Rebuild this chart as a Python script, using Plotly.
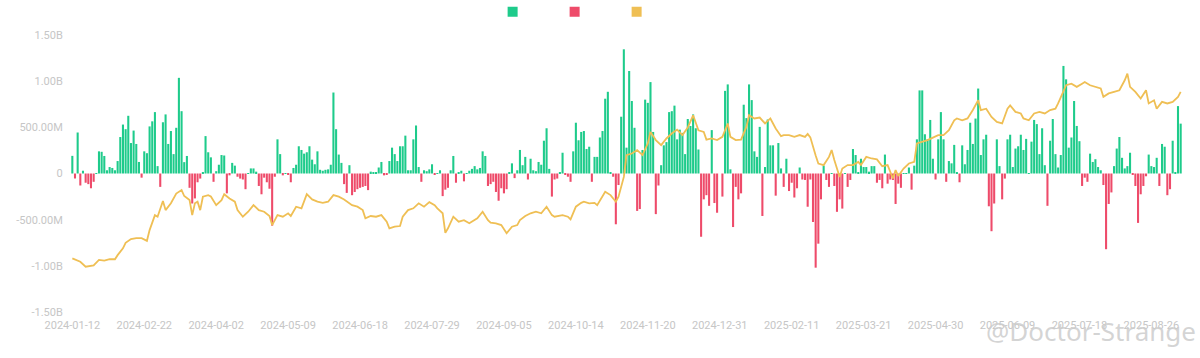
import pandas as pd
import plotly.graph_objects as go

# ---------------- data ----------------
market_holidays = ["2024-01-15", "2024-02-19", "2024-03-29", "2024-05-27", "2024-06-19",
                   "2024-07-04", "2024-09-02", "2024-11-28", "2024-12-25", "2025-01-01",
                   "2025-01-09", "2025-01-20", "2025-02-17", "2025-04-18", "2025-05-26",
                   "2025-06-19", "2025-07-04", "2025-09-01"]
first_day, last_day = "2024-01-12", "2025-09-11"

# daily net flow, millions USD (one per trading day)
net_flow_m = [
    191, -54, 444, -130, 30, -100, -115, -160, -90, 5,
    240, 235, 190, 35, 70, 60, 35, 135, 395, 530,
    480, 625, 330, 465, 320, 125, -45, 240, 220, 510,
    565, 665, 80, -145, 555, 640, 320, 460, 210, 495,
    1036, 675, 123, 190, -155, -325, -270, -95, -55, 7,
    405, 230, 175, -90, 25, 95, 200, 195, -215, -20,
    115, 85, -35, -55, -65, -170, 5, 55, 55, 20,
    -135, -225, -45, -95, -165, -565, -35, 370, 210, -20,
    3, -10, -95, 60, 95, 295, 255, 215, 230, 295,
    150, 100, 240, 40, 30, 40, 45, 95, 877, 480,
    205, 115, -115, -210, 90, -235, -200, -170, -155, -145,
    -135, -180, 20, 10, 7, 65, 125, -20, -15, 135,
    280, 210, 135, 295, 295, 410, 35, 35, 370, 520,
    70, -90, 35, 25, 45, 100, -15, 5, 35,
    -245, -175, -155, 35, 190, -100, 8, 30, -85, 5,
    30, 50, 80, 45, 60, 240, 190, -135, -115, -90,
    -200, -295, -160, -215, -170, 8, 110, -50, 35, 255,
    90, 180, -65, 160, 35, 25, 125, 95, 355, 490,
    50, -250, -65, -55, 8, 225, -15, -35, -90, 240,
    550, 360, 450, 460, 265, 290, -90, 180, 180, 390,
    460, 810, 885, 8, -35, -550, -125, 615, 1345, 280,
    1110, 785, 495, -405, -385, 255, 800, 765, 990, 450,
    -440, -130, 90, 305, 340, 665, 675, 735, 370, 475,
    440, 210, 590, 515, 640, 490, 260, -685, -280, -235,
    -350, 470, -320, -425, 0, -250, 895, 965, 45, -580,
    -145, -280, -215, 745, 600, 965, 795, 240, 180, 505,
    -460, 70, 585, 305, 305, -240, 330, 55, -145, 160,
    -190, -100, -260, -160, 65, -65, -70, -360,
    -65, -525, -1020, -760, -280, 85, -70, -145, 5, -135,
    -415, -280, -380, 5, -145, -70, 265, 200, 15, 160,
    70, 70, 20, 80, 80, -100, -70, -160, 205, -110,
    -65, -70, -330, -110, -155, 5, 5, 65, -175, 85,
    370, 900, 900, 425, 370, 580, 160, -65, 370, 665,
    370, -90, 135, 110, 310, 15, -95, 305, 100, 255,
    550, 320, 595, 920, 200, 370, 420, -355, -625, -325,
    370, 80, -280, -55, 370, 420, 70, 270, 295, 420,
    255, 375, 5, 345, 580, 535, 210, 490, 90, -350,
    355, 590, 210, 65, 200, 1165, 1020, 280, 390, 785,
    515, 350, -135, -45, -90, 215, 125, 155, 70, 35,
    -125, -820, -330, -205, 80, 270, 395, 170, 55, 80,
    225, -15, -135, -535, -225, -135, -30, 205, 80, 70,
    170, -135, 320, 290, -235, -170, 355, 10, 730, 540,
]

# BTC price (thousand USD) read at these trading-day positions
price_day_index = [
    0, 2, 3, 5, 7, 8, 10, 12, 14, 16, 17, 19, 20, 22, 24, 26, 28, 29, 31, 32,
    34, 35, 37, 39, 41, 42, 44, 45, 46, 47, 48, 49, 51, 52, 54, 56, 57, 59, 61, 62,
    64, 66, 68, 70, 72, 74, 75, 77, 79, 81, 82, 84, 86, 88, 90, 92, 94, 96, 98, 100,
    102, 104, 105, 107, 109, 110, 112, 114, 116, 118, 119, 121, 123, 124, 126, 128, 130, 132, 134, 136,
    137, 139, 140, 141, 143, 145, 147, 149, 150, 152, 154, 156, 157, 159, 161, 163, 165, 167, 168, 170,
    172, 174, 176, 178, 180, 181, 184, 186, 187, 189, 191, 192, 194, 196, 197, 199, 200, 202, 204, 205,
    207, 208, 210, 212, 214, 216, 217, 219, 221, 223, 225, 227, 229, 231, 233, 235, 237, 238, 240, 242,
    244, 246, 247, 249, 251, 253, 254, 256, 258, 260, 262, 264, 266, 267, 269, 271, 273, 275, 276, 277,
    278, 279, 280, 282, 284, 285, 286, 288, 289, 291, 293, 295, 296, 298, 300, 302, 304, 306, 308, 309,
    310, 312, 314, 316, 317, 319, 321, 323, 325, 327, 329, 331, 332, 334, 336, 338, 340, 341, 343, 345,
    347, 349, 351, 352, 354, 356, 357, 359, 361, 363, 365, 367, 369, 370, 372, 373, 375, 377, 379, 380,
    382, 384, 386, 387, 389, 391, 393, 395, 396, 397, 399, 401, 403, 404, 406, 407, 409, 411, 413, 415,
    416,
]
btc_price_k = [
    42.8, 41.7, 41.3, 39.1, 39.4, 39.7, 42.1, 41.8, 42.4, 42.4, 44.2, 47.2, 49.6, 51.3, 51.7, 51.7, 50.5, 55.2, 61.8, 61.1,
    68.0, 64.0, 67.0, 71.3, 72.8, 70.2, 68.4, 61.8, 67.0, 67.7, 64.0, 69.9, 70.6, 70.0, 66.2, 68.4, 71.0, 69.1, 67.7, 64.0,
    61.1, 63.3, 66.2, 64.0, 63.3, 61.4, 57.4, 61.8, 61.1, 62.6, 61.4, 65.5, 64.8, 71.0, 68.7, 67.7, 67.2, 67.7, 70.6, 69.9,
    68.7, 67.0, 66.2, 65.5, 64.0, 60.4, 61.4, 61.1, 61.8, 58.9, 56.0, 56.7, 57.0, 61.1, 64.0, 64.8, 67.0, 65.5, 67.5, 66.2,
    64.8, 62.6, 54.0, 56.0, 61.1, 58.9, 59.6, 58.2, 58.9, 60.4, 63.3, 59.6, 58.5, 58.2, 57.4, 53.8, 56.7, 57.4, 59.6, 61.4,
    62.6, 63.3, 62.6, 65.5, 61.8, 61.1, 61.8, 61.1, 59.9, 65.5, 67.2, 67.7, 67.0, 67.2, 66.2, 69.9, 72.1, 70.6, 67.7, 69.9,
    78.6, 88.2, 88.9, 90.4, 88.2, 93.3, 98.4, 94.8, 92.6, 95.5, 97.7, 99.4, 97.0, 100.3, 105.7, 99.1, 98.4, 95.0, 95.5, 94.8,
    96.2, 102.1, 96.2, 94.8, 95.0, 100.6, 105.7, 104.3, 104.7, 102.1, 104.3, 99.9, 96.5, 97.0, 97.0, 96.2, 97.0, 96.2, 97.5, 96.0,
    91.5, 88.0, 84.5, 83.8, 87.4, 90.4, 86.0, 78.6, 82.3, 83.8, 83.8, 85.2, 83.8, 87.4, 86.7, 86.3, 83.3, 83.8, 77.9, 81.6,
    79.0, 82.3, 84.5, 85.2, 93.3, 94.0, 94.8, 95.9, 97.0, 97.0, 99.1, 103.5, 104.3, 103.5, 104.3, 108.0, 112.3, 108.0, 108.6, 105.0,
    102.8, 102.1, 108.6, 110.0, 107.2, 106.5, 104.3, 103.5, 106.5, 107.2, 106.5, 108.0, 108.6, 110.9, 116.7, 118.9, 119.6, 118.2, 119.6, 120.3,
    118.9, 118.2, 117.5, 113.8, 115.3, 116.0, 116.7, 121.1, 124.0, 118.2, 116.0, 113.1, 116.7, 110.9, 112.3, 108.6, 111.6, 110.9, 111.6, 113.8,
    116.0,
]

x_tick_labels = ["2024-01-12", "2024-02-22", "2024-04-02", "2024-05-09", "2024-06-18",
                 "2024-07-29", "2024-09-05", "2024-10-14", "2024-11-20", "2024-12-31",
                 "2025-02-11", "2025-03-21", "2025-04-30", "2025-06-09", "2025-07-18",
                 "2025-08-26"]
y_tick_values_m = [-1500, -1000, -500, 0, 500, 1000, 1500]
y_tick_labels = ["-1.50B", "-1.00B", "-500.00M", "0", "500.00M", "1.00B", "1.50B"]
watermark_text = "@Doctor-Strange"

# ---------------- derived tables ----------------
trading_days = [d.strftime("%Y-%m-%d") for d in pd.bdate_range(first_day, last_day)
                if d.strftime("%Y-%m-%d") not in market_holidays]
assert len(trading_days) == len(net_flow_m), (len(trading_days), len(net_flow_m))
assert len(price_day_index) == len(btc_price_k)

inflow = [v if v > 0 else None for v in net_flow_m]
outflow = [v if v < 0 else None for v in net_flow_m]
price_days = [trading_days[i] for i in price_day_index]

GREEN = "#1ecb8b"
RED = "#ee4b6a"
YELLOW = "#efbf54"
LABEL = "#c6c6c6"
FONT = "Roboto, sans-serif"

fig = go.Figure()
fig.add_trace(go.Bar(x=trading_days, y=inflow, marker_color=GREEN, marker_line_width=0,
                     showlegend=False, name="Inflow"))
fig.add_trace(go.Bar(x=trading_days, y=outflow, marker_color=RED, marker_line_width=0,
                     showlegend=False, name="Outflow"))
fig.add_trace(go.Scatter(x=price_days, y=btc_price_k, mode="lines", yaxis="y2",
                         line=dict(color=YELLOW, width=1.8), showlegend=False, name="BTC"))
# legend swatches (square icons, no text as in the original)
for c in (GREEN, RED, YELLOW):
    fig.add_trace(go.Scatter(x=[None], y=[None], mode="markers", name="",
                             marker=dict(symbol="square", size=10, color=c),
                             showlegend=True))

fig.update_layout(
    width=1200, height=358,
    margin=dict(l=71, r=18, t=35, b=46, autoexpand=False),
    paper_bgcolor="white", plot_bgcolor="white",
    barmode="relative", bargap=0.22,
    font=dict(family=FONT, size=11, color=LABEL),
    showlegend=True,
    legend=dict(orientation="h", xref="paper", yref="paper",
                x=0.3795, y=1.136, xanchor="left", yanchor="top",
                entrywidth=17, entrywidthmode="pixels",
                font=dict(size=11, color=LABEL), bgcolor="rgba(0,0,0,0)"),
    xaxis=dict(type="category", tickmode="array", tickvals=x_tick_labels,
               ticktext=x_tick_labels, showgrid=False, zeroline=False, showline=False,
               ticks="outside", ticklen=3, tickcolor="rgba(0,0,0,0)",
               tickfont=dict(family=FONT, size=11, color=LABEL)),
    yaxis=dict(range=[-1500, 1500], tickmode="array", tickvals=y_tick_values_m,
               ticktext=y_tick_labels, showgrid=False, zeroline=False, showline=False,
               ticks="outside", ticklen=5, tickcolor="rgba(0,0,0,0)",
               tickfont=dict(family=FONT, size=11, color=LABEL)),
    yaxis2=dict(overlaying="y", side="right", range=[19.2, 141.0], visible=False,
                showgrid=False, zeroline=False),
    annotations=[dict(text=watermark_text, xref="paper", yref="paper",
                      x=0.918, y=-0.068, xanchor="center", yanchor="middle",
                      showarrow=False,
                      font=dict(family="Noto Sans, sans-serif", size=26,
                                color="rgba(205,205,205,0.85)"))],
)

fig.write_html("out.html", config={"displayModeBar": False},
               post_script="document.body.style.margin='0';")
